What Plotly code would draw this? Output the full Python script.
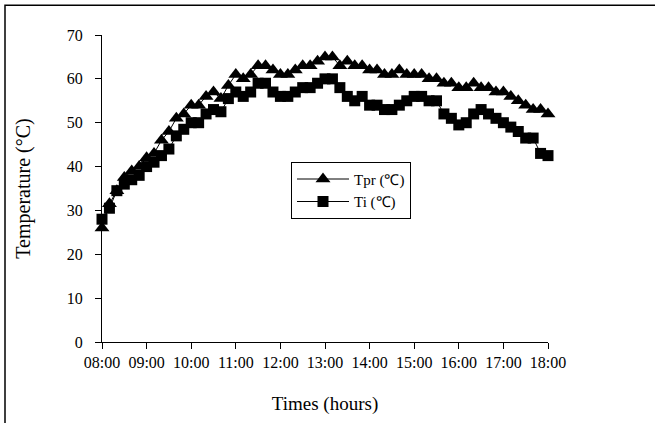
import plotly.graph_objects as go

times = [f"2000-01-01 {8 + i // 6:02d}:{(i % 6) * 10:02d}" for i in range(61)]

tpr = [26, 31.5, 34.5, 37.5, 39, 40, 42, 43, 46, 48, 51, 52, 54, 54, 56, 57, 55.5, 58.5, 61,
       60, 61, 63, 63, 62, 61, 61, 62, 63, 63, 64, 65, 65, 63, 64, 63, 63, 62, 62, 61,
       61, 62, 61, 61, 61, 60, 60, 59, 59, 58, 58, 59, 58, 58, 57, 57, 56, 55, 54, 53,
       53, 52]
ti = [28, 30.5, 34.5, 36, 37, 38, 40, 41, 42.5, 44, 47, 48.5, 50, 50, 52, 53, 52.5, 55.5, 57, 56,
      57, 59, 59, 57, 56, 56, 57, 58, 58, 59, 60, 60, 58, 56, 55, 56, 54, 54, 53, 53,
      54, 55, 56, 56, 55, 55, 52, 51, 49.5, 50, 52, 53, 52, 51, 50, 49, 48, 46.5, 46.5, 43,
      42.5]

tick_vals = [f"2000-01-01 {h:02d}:00" for h in range(8, 19)]
tick_text = [f"{h:02d}:00" for h in range(8, 19)]

serif = "Liberation Serif, Times New Roman, serif"

fig = go.Figure()
fig.add_trace(go.Scatter(
    x=times, y=tpr, mode="lines+markers", name="Tpr (\u2103)",
    line=dict(color="black", width=1),
    marker=dict(symbol="triangle-up", size=13, color="black"),
    cliponaxis=False,
))
fig.add_trace(go.Scatter(
    x=times, y=ti, mode="lines+markers", name="Ti (\u2103)",
    line=dict(color="black", width=1),
    marker=dict(symbol="square", size=11, color="black"),
    cliponaxis=False,
))

L, R, T, B = 102, 107, 35, 78
W, H = 655, 423
pw, ph = W - L - R, H - T - B

fig.update_layout(
    width=W, height=H,
    margin=dict(l=L, r=R, t=T, b=B),
    paper_bgcolor="white", plot_bgcolor="white",
    font=dict(family=serif, color="black", size=15),
    showlegend=True,
    legend=dict(
        x=(291 - L) / pw, y=(H - B - 163) / ph, xanchor="left", yanchor="top",
        bgcolor="white", bordercolor="black", borderwidth=1,
        font=dict(family=serif, size=15, color="black"),
        itemwidth=52, tracegroupgap=0,
    ),
    shapes=[dict(
        type="rect", xref="paper", yref="paper",
        x0=(5 - L) / pw, x1=(W + 60 - L) / pw,
        y0=-(B + 60) / ph, y1=(H - B - 5) / ph,
        line=dict(color="black", width=1.5), fillcolor="rgba(0,0,0,0)", layer="below",
    )],
)

fig.update_xaxes(
    type="date",
    range=["2000-01-01 08:00", "2000-01-01 18:00"],
    tickvals=tick_vals, ticktext=tick_text,
    showgrid=False, zeroline=False,
    showline=True, linecolor="black", linewidth=1,
    ticks="outside", ticklen=6, tickcolor="black", tickwidth=1,
    tickfont=dict(family=serif, size=16, color="black"),
    title=dict(text="Times (hours)", font=dict(family=serif, size=19, color="black"), standoff=26),
)
fig.update_yaxes(
    range=[0, 70], dtick=10,
    showgrid=False, zeroline=False,
    showline=True, linecolor="black", linewidth=1,
    ticks="outside", ticklen=6, tickcolor="black", tickwidth=1,
    tickfont=dict(family=serif, size=16, color="black"),
    ticklabelstandoff=9,
    title=dict(text="Temperature (\u00b0C)", font=dict(family=serif, size=20, color="black"), standoff=30),
)

fig.write_html("out.html")
